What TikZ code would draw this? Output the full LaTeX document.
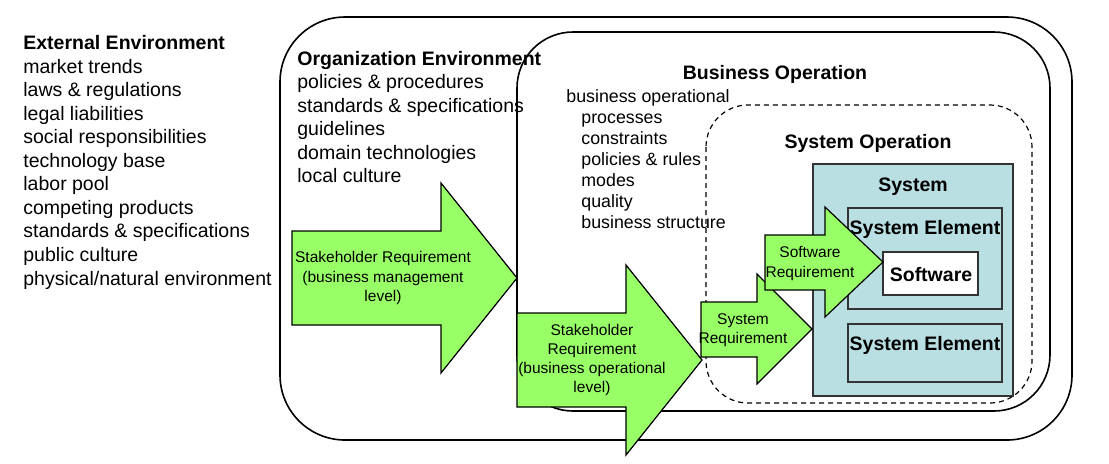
\documentclass[tikz,border=0pt]{standalone}
\usepackage{fontspec}
\setmainfont{Liberation Sans}
\definecolor{reqgreen}{RGB}{153,255,102}
\definecolor{sysblue}{RGB}{185,223,227}
\newcommand{\bigfont}{\fontsize{9.75}{11.8}\selectfont}
\newcommand{\smallfont}{\fontsize{8.9}{10.5}\selectfont}
\newcommand{\reqfont}{\fontsize{7.75}{9.6}\selectfont}

\begin{document}
\begin{tikzpicture}[x=0.5pt, y=-0.5pt,
	envbox/.style={draw=black, line width=0.8pt},
	elembox/.style={draw=black!80, line width=0.9pt},
	reqarrow/.style={draw=black, line width=0.6pt, fill=reqgreen},
	item/.style={font=\bigfont, inner sep=0pt, anchor=base west},
	bizitem/.style={font=\smallfont, inner sep=0pt, anchor=base west},
	head/.style={font=\bigfont\bfseries, inner sep=0pt, anchor=base},
	reqtext/.style={font=\reqfont, align=center, inner sep=0pt}]
	\useasboundingbox (0,0) rectangle (1109,463);
	% environments
	\draw [envbox, rounded corners=32.5pt] (280,17) rectangle (1072,440);
	\draw [envbox, rounded corners=28pt, fill=white] (517,32) rectangle (1050,411);
	\draw [elembox, fill=sysblue] (813,164) rectangle (1013,396);
	\draw [black, line width=0.6pt, dash pattern=on 2.5pt off 2pt, rounded corners=21pt] (706,105) rectangle (1032,403);
	\draw [elembox, fill=sysblue] (848,208) rectangle (1002,309);
	\draw [elembox, fill=white] (883,252) rectangle (978,295);
	\draw [elembox, fill=sysblue] (848,324) rectangle (1002,382);
	% external environment
	\node [item, font=\bigfont\bfseries] (exthead) at (23,49.5) {External Environment};
	\foreach \t [count=\i] in {market trends, laws \& regulations, legal liabilities, social responsibilities, technology base, labor pool, competing products, standards \& specifications, public culture, physical/natural environment}
		\node [item] (ext\i) at (23,49.5+23.55*\i) {\t};
	% organization environment
	\node [item, font=\bigfont\bfseries] (orghead) at (297,65) {Organization Environment};
	\foreach \t [count=\i] in {policies \& procedures, standards \& specifications, guidelines, domain technologies, local culture}
		\node [item] (org\i) at (297,65+23.55*\i) {\t};
	% business operation
	\node [head] (bizhead) at (775,79) {Business Operation};
	\node [bizitem] (biz0) at (566,102) {business operational};
	\foreach \t [count=\i] in {processes, constraints, policies \& rules, modes, quality, business structure}
		\node [bizitem] (biz\i) at (581,102+21.1*\i) {\t};
	% requirement arrows
	\draw [reqarrow] (292,231) -- (441,231) -- (441,183) -- (517,278) -- (441,373) -- (441,325) -- (292,325) -- cycle;
	\draw [reqarrow] (517,313) -- (626,313) -- (626,265) -- (702,360) -- (626,455) -- (626,407) -- (517,407) -- cycle;
	\draw [reqarrow] (701,302) -- (757,302) -- (757,274) -- (812,329) -- (757,384) -- (757,357) -- (701,357) -- cycle;
	\draw [reqarrow] (765,235) -- (825,235) -- (825,207) -- (883,262) -- (825,317) -- (825,290) -- (765,290) -- cycle;
	\node [reqtext] (stkmgmt) at (383,278) {Stakeholder Requirement\\(business management\\level)};
	\node [reqtext] (stkop) at (592,360) {Stakeholder\\Requirement\\(business operational\\level)};
	\node [reqtext] (sysreq) at (743,330.5) {System\\Requirement};
	\node [reqtext] (swreq) at (810,263.5) {Software\\Requirement};
	% system
	\node [head] (sysophead) at (868,148) {System Operation};
	\node [head] (syshead) at (913,191) {System};
	\node [head] (elem1) at (925,234) {System Element};
	\node [head] (sw) at (931,281) {Software};
	\node [head] (elem2) at (925,350) {System Element};
\end{tikzpicture}
\end{document}
